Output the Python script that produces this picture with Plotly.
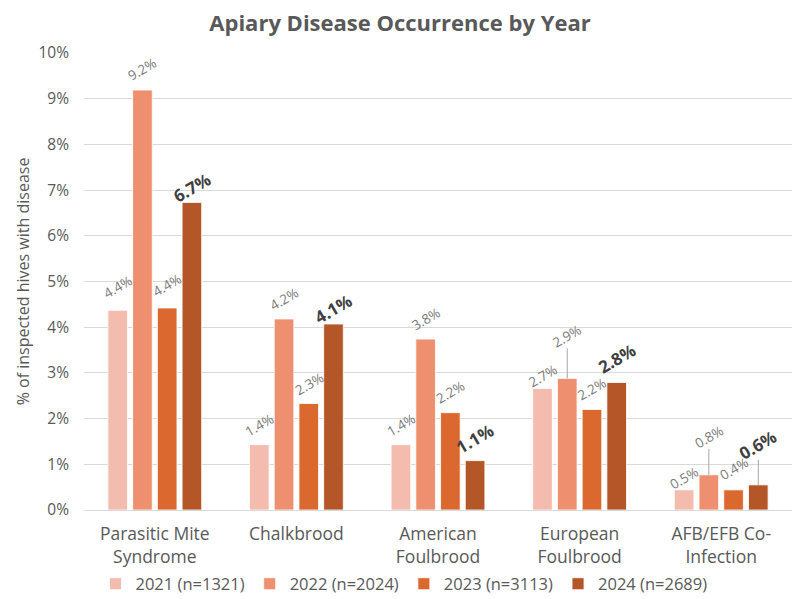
import plotly.graph_objects as go

categories = ["Parasitic Mite<br>Syndrome", "Chalkbrood", "American<br>Foulbrood",
              "European<br>Foulbrood", "AFB/EFB Co-<br>Infection"]
series_names = ["2021 (n=1321)", "2022 (n=2024)", "2023 (n=3113)", "2024 (n=2689)"]

v2021 = [4.37, 1.43, 1.43, 2.66, 0.44]
v2022 = [9.19, 4.18, 3.74, 2.88, 0.77]
v2023 = [4.42, 2.33, 2.13, 2.20, 0.44]
v2024 = [6.73, 4.07, 1.08, 2.79, 0.55]

lab2021 = ["4.4%", "1.4%", "1.4%", "2.7%", "0.5%"]
lab2022 = ["9.2%", "4.2%", "3.8%", "2.9%", "0.8%"]
lab2023 = ["4.4%", "2.3%", "2.2%", "2.2%", "0.4%"]
lab2024 = ["6.7%", "4.1%", "1.1%", "2.8%", "0.6%"]

y_ticks = [0, 1, 2, 3, 4, 5, 6, 7, 8, 9, 10]

values = [v2021, v2022, v2023, v2024]
labels = [lab2021, lab2022, lab2023, lab2024]

# styles
colors = ["#F3BCAE", "#EE9070", "#DB692F", "#B45627"]
bar_width = 0.1385
step = 0.1746
series_offsets = [(k - 1.5) * step for k in range(4)]
# pixel distance from bar top to label centre; leader lines where flagged
label_shift = [
    [23, 20, 20, 12, 12],
    [21, 20, 20, 42, 38],
    [23, 20, 21, 20, 21],
    [15, 16, 22, 24, 40],
]
leader = [
    [False] * 5,
    [False, False, False, True, True],
    [False] * 5,
    [False, False, False, False, True],
]

FONT = "Open Sans"
GREY = "#595959"

# page has an 8px body margin; figure sized to fit the window
W, H = 793, 591

fig = go.Figure()
annotations = []
for k in range(4):
    xs = [i + series_offsets[k] for i in range(len(categories))]
    fig.add_trace(go.Bar(
        x=xs, y=values[k], width=bar_width, name=series_names[k],
        marker=dict(color=colors[k], line=dict(color="white", width=0.8)),
        hoverinfo="skip",
    ))
    for i in range(len(categories)):
        bold = (k == 3)
        txt = "<b>%s</b>" % labels[k][i] if bold else labels[k][i]
        font = dict(family=FONT, size=17 if bold else 13.5,
                    color="#404040" if bold else "#7A7A7A")
        if leader[k][i]:
            annotations.append(dict(
                x=xs[i], y=values[k][i], xref="x", yref="y", text=txt,
                textangle=-30, font=font, showarrow=True, arrowhead=0,
                arrowwidth=1, arrowcolor="#A6A6A6", ax=0, ay=-label_shift[k][i],
                standoff=0,
            ))
        else:
            annotations.append(dict(
                x=xs[i], y=values[k][i], xref="x", yref="y", text=txt,
                textangle=-30, font=font, showarrow=False,
                yanchor="middle", xanchor="center", yshift=label_shift[k][i],
            ))

fig.update_layout(
    width=W, height=H,
    margin=dict(l=76, r=9, t=45, b=89, autoexpand=False),
    paper_bgcolor="white", plot_bgcolor="white",
    font=dict(family=FONT, color=GREY),
    title=dict(text="<b>Apiary Disease Occurrence by Year</b>", x=392 / W, xref="container",
               xanchor="center",
               y=1 - 15 / H, yref="container", yanchor="middle",
               font=dict(family=FONT, size=22, color=GREY)),
    barmode="overlay",
    showlegend=True,
    legend=dict(orientation="h", xref="container", x=396 / W, xanchor="center",
                yref="container", y=15 / H, yanchor="middle",
                font=dict(family=FONT, size=16.5, color=GREY),
                tracegroupgap=0),
    xaxis=dict(range=[-0.5, 4.5], tickmode="array", tickvals=list(range(len(categories))),
               ticktext=categories, showgrid=False, zeroline=False, automargin=False,
               tickangle=0, ticklabelstandoff=8,
               showline=True, linecolor="#D9D9D9", linewidth=1, ticks="",
               tickfont=dict(family=FONT, size=17.5, color=GREY)),
    yaxis=dict(range=[0, 10], tickmode="array", tickvals=y_ticks, automargin=False,
               ticktext=["%d%%" % t for t in y_ticks], ticklabelstandoff=14,
               showgrid=True, gridcolor="#D9D9D9", gridwidth=1, zeroline=False,
               tickfont=dict(family=FONT, size=15.5, color=GREY), ticks="",
               title=dict(text="% of inspected hives with disease",
                          font=dict(family=FONT, size=16, color=GREY), standoff=4)),
    annotations=annotations,
)

fig.write_html("out.html")
